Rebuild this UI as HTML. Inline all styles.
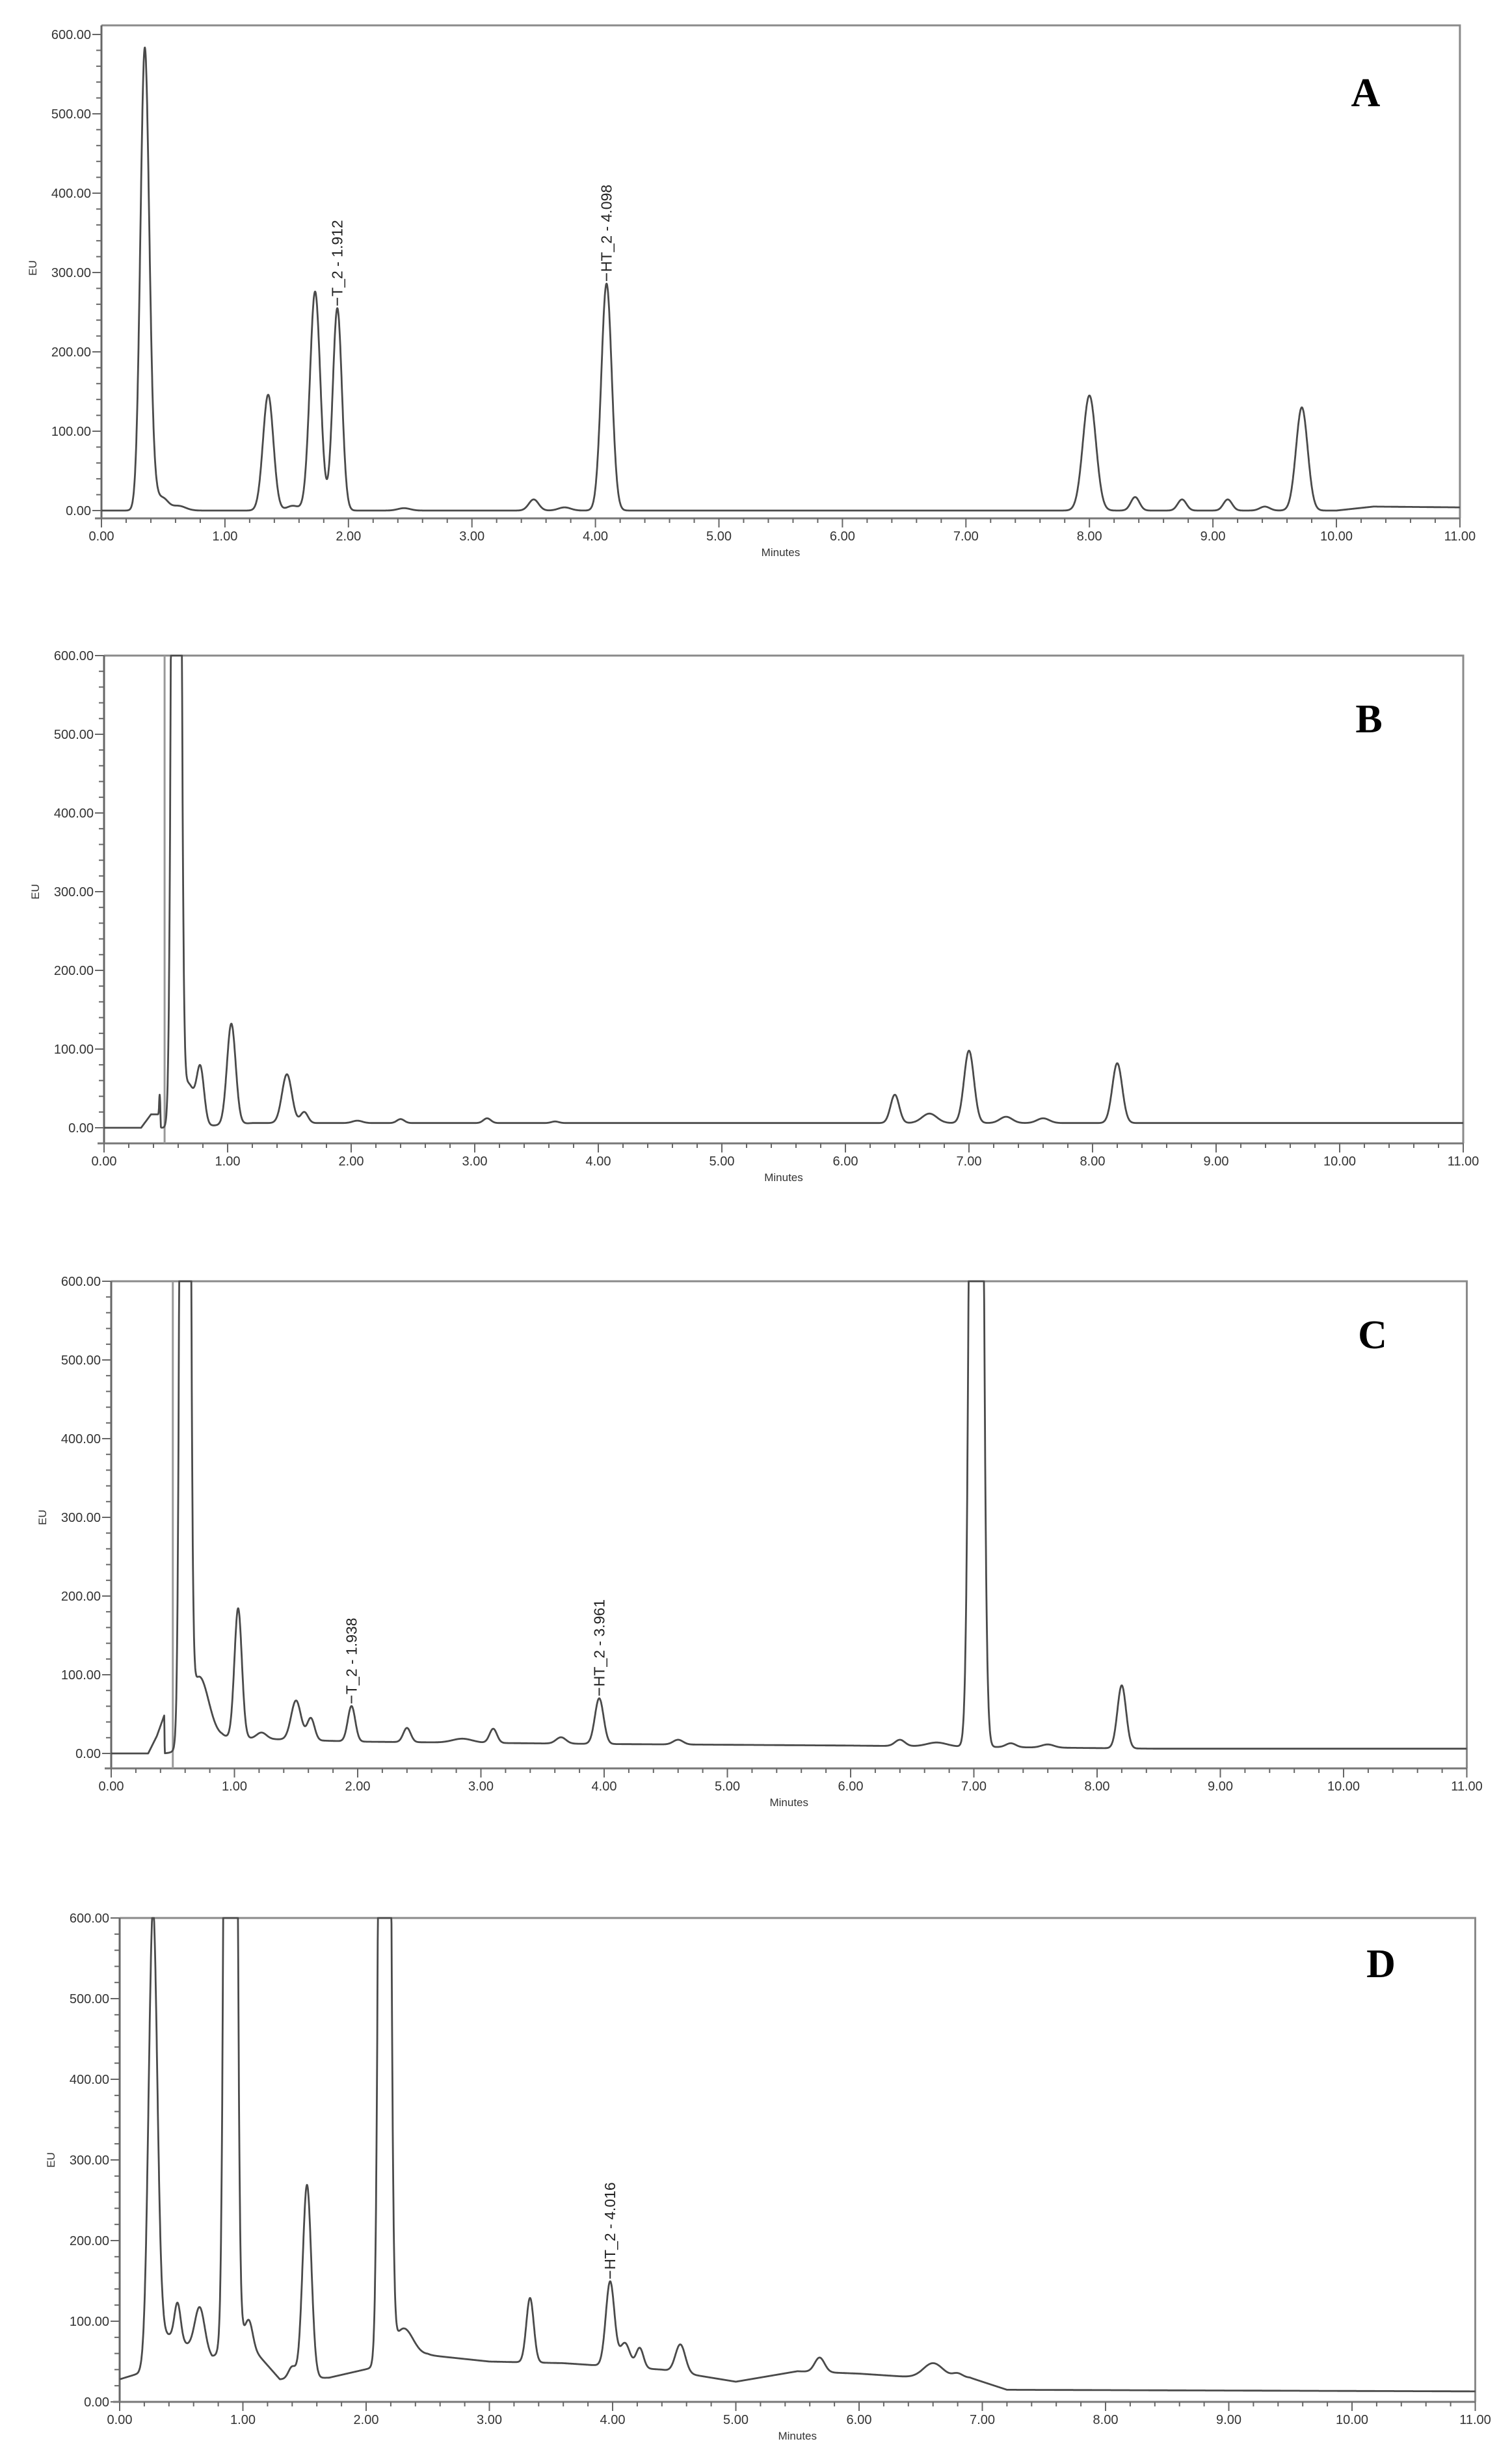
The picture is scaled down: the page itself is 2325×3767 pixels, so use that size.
<!DOCTYPE html>
<html><head><meta charset="utf-8"><title>Chromatograms A-D</title>
<style>
html,body{margin:0;padding:0;background:#fff;}
svg{display:block;}
text{font-family:"Liberation Sans",sans-serif;}
</style></head>
<body>
<svg id="fig" width="2325" height="3767" viewBox="0 0 2325 3767" xmlns="http://www.w3.org/2000/svg">
<rect width="2325" height="3767" fill="#fff"/>
</svg>
<script>
// ---------- DATA ----------
const yTicks = [0, 100, 200, 300, 400, 500, 600];
const xTicks = [0,1,2,3,4,5,6,7,8,9,10,11];

// Panel A
const peakTimesA   = [0.35,0.40,0.50,0.62,1.35,1.55,1.73,1.91,2.45,3.50,3.75,4.09,8.00,8.37,8.75,9.12,9.42,9.72];
const peakHeightsA = [565,40,14,6,146,6,276,255,3,14,4,286,145,17,14,14,5,130];
const peakWidthsA  = [0.035,0.04,0.04,0.06,0.042,0.05,0.042,0.037,0.05,0.04,0.05,0.042,0.052,0.035,0.035,0.035,0.04,0.047];
const baseTimesA   = [0,10.0,10.3,11];
const baseValuesA  = [0,0,5,4];

// Panel B
const peakTimesB   = [0.45,0.585,0.68,0.78,1.03,1.48,1.62,2.05,2.40,3.10,3.65,6.40,6.68,7.00,7.30,7.60,8.20];
const peakHeightsB = [25,3000,55,70,128,62,14,3,5,6,2,36,12,92,8,6,76];
const peakWidthsB  = [0.004,0.025,0.05,0.03,0.035,0.04,0.03,0.04,0.03,0.03,0.03,0.035,0.06,0.04,0.05,0.05,0.04];
const baseTimesB   = [0,0.30,0.38,0.455,0.46,0.60,1.20,11];
const baseValuesB  = [0,0,17,17,0,0,6,6];

// Panel C
const peakTimesC   = [0.60,0.71,1.03,1.22,1.50,1.62,1.95,2.40,2.85,3.10,3.65,3.96,4.60,6.40,6.70,7.02,7.30,7.60,8.20];
const peakHeightsC = [4000,90,165,8,50,28,45,18,5,18,8,58,6,8,5,3000,5,4,80];
const peakWidthsC  = [0.025,0.08,0.03,0.04,0.04,0.03,0.03,0.03,0.08,0.03,0.04,0.035,0.04,0.04,0.08,0.035,0.04,0.05,0.035];
const baseTimesC   = [0,0.30,0.37,0.43,0.435,0.60,0.90,2.0,4.0,6.0,8.5,11];
const baseValuesC  = [0,0,22,48,0,0,20,15,12,10,6,6];

// Panel D
const peakTimesD   = [0.27,0.47,0.65,0.90,1.05,1.40,1.52,2.15,2.30,3.33,3.98,4.10,4.22,4.55,5.68,6.60,6.80];
const peakHeightsD = [560,45,55,4000,30,15,240,3000,40,80,105,30,25,35,18,18,5];
const peakWidthsD  = [0.035,0.025,0.04,0.03,0.03,0.03,0.035,0.03,0.08,0.03,0.035,0.04,0.03,0.04,0.04,0.08,0.04];
const baseTimesD   = [0,0.15,0.25,0.35,0.45,0.55,0.75,1.0,1.3,1.7,2.5,3.0,3.6,4.4,5.0,5.5,6.0,6.5,6.9,7.2,11];
const baseValuesD  = [28,35,45,85,80,70,55,80,28,30,58,50,48,40,25,38,35,30,30,15,13];

const annotTimes = {A:[1.91,4.09], C:[1.95,3.96], D:[3.98]};
const annotTexts = {A:["T_2 - 1.912","HT_2 - 4.098"], C:["T_2 - 1.938","HT_2 - 3.961"], D:["HT_2 - 4.016"]};

// ---------- LAYOUT ----------
const panels = [
  {id:'A', pt:peakTimesA, ph:peakHeightsA, pw:peakWidthsA, bt:baseTimesA, bv:baseValuesA,
   x0:156, pxPerMin:189.9, y0:785, pxPer100:122, frameTop:39, axisY:797, marker:null, letterY:163},
  {id:'B', pt:peakTimesB, ph:peakHeightsB, pw:peakWidthsB, bt:baseTimesB, bv:baseValuesB,
   x0:160, pxPerMin:190, y0:1734, pxPer100:121, frameTop:1008, axisY:1758, marker:0.49, letterY:1126},
  {id:'C', pt:peakTimesC, ph:peakHeightsC, pw:peakWidthsC, bt:baseTimesC, bv:baseValuesC,
   x0:171, pxPerMin:189.5, y0:2696, pxPer100:121, frameTop:1970, axisY:2719, marker:0.5, letterY:2073},
  {id:'D', pt:peakTimesD, ph:peakHeightsD, pw:peakWidthsD, bt:baseTimesD, bv:baseValuesD,
   x0:184, pxPerMin:189.5, y0:3693, pxPer100:124, frameTop:2949, axisY:3693, marker:null, letterY:3040}
];

const NS = 'http://www.w3.org/2000/svg';
const svg = document.getElementById('fig');
function mk(tag, attrs, parent){
  const e = document.createElementNS(NS, tag);
  for (const k in attrs) e.setAttribute(k, attrs[k]);
  (parent||svg).appendChild(e);
  return e;
}
function interp(ts, vs, t){
  if (t <= ts[0]) return vs[0];
  for (let i=1;i<ts.length;i++){
    if (t <= ts[i]) { const f=(t-ts[i-1])/(ts[i]-ts[i-1]); return vs[i-1]+f*(vs[i]-vs[i-1]); }
  }
  return vs[vs.length-1];
}
function signal(p, t){
  let v = interp(p.bt, p.bv, t);
  for (let i=0;i<p.pt.length;i++){
    const u=(t-p.pt[i])/p.pw[i];
    v += p.ph[i]*Math.exp(-0.5*u*u);
  }
  return v;
}

panels.forEach(p => {
  const X = t => p.x0 + t*p.pxPerMin;
  const Y = v => p.y0 - v*p.pxPer100/100;
  const xEnd = X(11);
  const g = mk('g', {});
  
  

  const fr = mk('path', {d:`M${p.x0},${p.frameTop} L${xEnd},${p.frameTop} L${xEnd},${p.axisY}`, fill:'none', stroke:'#8a8a8a', 'stroke-width':3}, g);
  
  

  const ya = mk('line', {x1:p.x0, y1:p.frameTop, x2:p.x0, y2:p.axisY, stroke:'#666', 'stroke-width':3}, g);
  
  
  for (let v=0; v<=600; v+=20){
    const major = v%100===0;
    const tk = mk('line', {x1:p.x0-(major?14:8), y1:Y(v), x2:p.x0, y2:Y(v), stroke:'#666', 'stroke-width':2}, g);
    
    
  }
  yTicks.forEach(v => {
    const t = mk('text', {x:p.x0-16, y:Y(v)+7, 'text-anchor':'end', 'font-size':20, fill:'#333'}, g);
    t.textContent = v.toFixed(2);
    
    
  });
  const eu = mk('text', {x:0, y:0, 'text-anchor':'middle', 'font-size':17, fill:'#333', transform:`translate(${p.x0-100},${(p.frameTop+p.y0)/2}) rotate(-90)`}, g);
  eu.textContent = 'EU';
  
  

  const xa = mk('line', {x1:p.x0-10, y1:p.axisY, x2:xEnd, y2:p.axisY, stroke:'#777', 'stroke-width':3}, g);
  
  
  for (let i=0;i<=55;i++){
    const t=i*0.2, major = i%5===0;
    const tk = mk('line', {x1:X(t), y1:p.axisY, x2:X(t), y2:p.axisY+(major?14:7), stroke:'#666', 'stroke-width':2}, g);
    
    
  }
  xTicks.forEach(t => {
    const tl = mk('text', {x:X(t), y:p.axisY+34, 'text-anchor':'middle', 'font-size':20, fill:'#333'}, g);
    tl.textContent = t.toFixed(2);
    
    
  });
  const mn = mk('text', {x:X(5.5), y:p.axisY+58, 'text-anchor':'middle', 'font-size':17, fill:'#333'}, g);
  mn.textContent = 'Minutes';
  
  

  if (p.marker !== null){
    const ml = mk('line', {x1:X(p.marker), y1:p.frameTop, x2:X(p.marker), y2:p.axisY, stroke:'#999', 'stroke-width':3}, g);
    
    
  }

  let d='';
  for (let t=0; t<=11.0001; t+=0.002){
    const v = Math.min(signal(p,t), 600);
    d += (d?'L':'M') + X(t).toFixed(1) + ',' + Y(v).toFixed(1);
  }
  const tr = mk('path', {d, fill:'none', stroke:'#4a4a4a', 'stroke-width':2.8, 'stroke-linejoin':'round'}, g);
  
  

  (annotTimes[p.id]||[]).forEach((at, i) => {
    let best = 0;
    for (let t=at-0.05; t<=at+0.05; t+=0.002) best = Math.max(best, signal(p,t));
    const py = Y(Math.min(best,600));
    const ln = mk('line', {x1:X(at), y1:py-4, x2:X(at), y2:py-16, stroke:'#333', 'stroke-width':2}, g);
    
    
    const tx = mk('text', {x:0, y:0, 'font-size':23, fill:'#222', transform:`translate(${X(at)+8},${py-18}) rotate(-90)`}, g);
    tx.textContent = annotTexts[p.id][i];
    
    
  });

  const lt = mk('text', {x:xEnd-145, y:p.letterY, 'text-anchor':'middle', 'font-size':62, 'font-weight':'bold', fill:'#000', style:'font-family:"Liberation Serif",serif'}, g);
  lt.textContent = p.id;
  
  
});
</script>
</body></html>
